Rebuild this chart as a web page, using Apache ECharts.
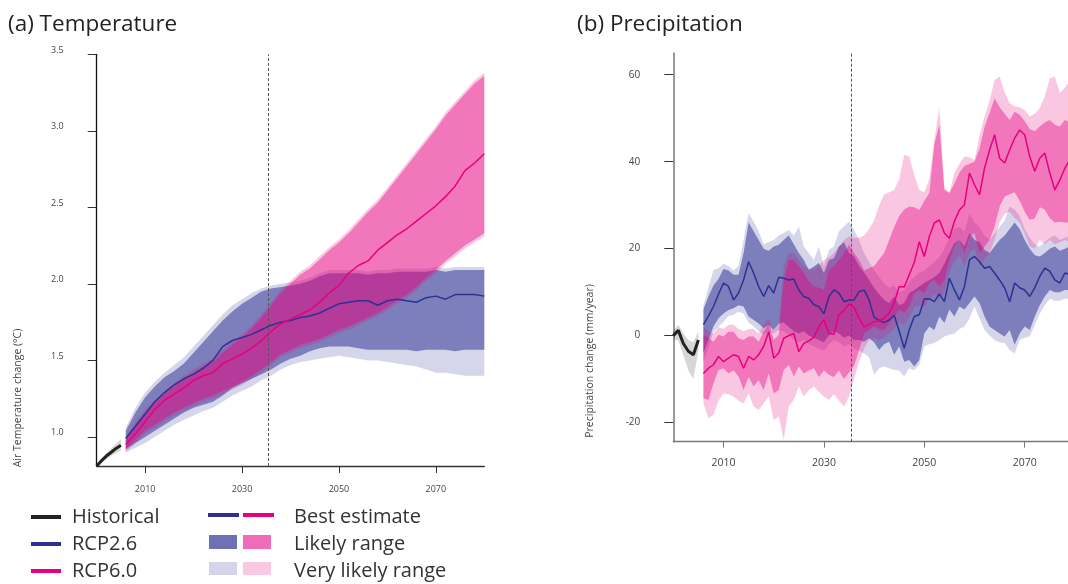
<!DOCTYPE html>
<html lang="en">
<head>
<meta charset="UTF-8">
<title>Temperature and precipitation projections</title>
<script src="https://cdn.jsdelivr.net/npm/echarts@6/dist/echarts.min.js"></script>
<style>
  html, body { margin: 0; padding: 0; background: #fff; }
  #main { width: 1068px; height: 584px; }
</style>
</head>
<body>
<div id="main"></div>
<script>
// ---------- data ----------
function range(a, b, step) { var r = []; for (var v = a; v <= b; v += step) r.push(v); return r; }

var histYears = [2000, 2001, 2002, 2003, 2004, 2005];
var tempYears = range(2006, 2080, 2);
var precipYears = range(2006, 2080, 1);
var dividerYear = 2035.4;

var yearTicks = [2010, 2030, 2050, 2070];
var tempTicks = [1.0, 1.5, 2.0, 2.5, 3.0, 3.5];
var precipTicks = [-20, 0, 20, 40, 60];

// temperature (°C)
var tempHist   = [0.81, 0.845, 0.875, 0.90, 0.925, 0.945];
var tempHistLo = [0.80, 0.83, 0.855, 0.875, 0.895, 0.91];
var tempHistHi = [0.82, 0.86, 0.895, 0.925, 0.955, 0.985];

var t26Mean = [0.99,1.07,1.15,1.23,1.29,1.34,1.38,1.41,1.45,1.50, 1.59,1.63,1.65,1.67,1.70,1.73,1.75,1.76,1.78,1.79,
               1.81,1.84,1.87,1.88,1.89,1.89,1.86,1.89,1.90,1.89, 1.88,1.91,1.92,1.90,1.93,1.93,1.93,1.92];
var t26Hi   = [1.04,1.16,1.26,1.33,1.39,1.43,1.48,1.55,1.62,1.69, 1.76,1.82,1.87,1.91,1.95,1.97,1.98,1.99,2.00,2.02,
               2.05,2.07,2.07,2.07,2.07,2.06,2.07,2.07,2.08,2.08, 2.08,2.08,2.09,2.08,2.09,2.09,2.09,2.09];
var t26Lo   = [0.92,0.96,1.00,1.04,1.08,1.12,1.16,1.19,1.21,1.23, 1.27,1.32,1.35,1.38,1.41,1.44,1.48,1.51,1.53,1.56,
               1.58,1.59,1.59,1.59,1.58,1.57,1.57,1.57,1.57,1.57, 1.56,1.57,1.57,1.57,1.56,1.57,1.57,1.57];
var t26VHi  = [1.06,1.19,1.29,1.36,1.42,1.47,1.52,1.59,1.66,1.73, 1.80,1.86,1.90,1.94,1.97,1.99,2.00,2.01,2.02,2.04,
               2.07,2.09,2.09,2.09,2.09,2.08,2.09,2.09,2.10,2.10, 2.10,2.10,2.11,2.10,2.11,2.11,2.11,2.11];
var t26VLo  = [0.90,0.93,0.96,1.00,1.04,1.08,1.11,1.14,1.17,1.19, 1.23,1.27,1.30,1.33,1.37,1.40,1.44,1.47,1.49,1.50,
               1.51,1.52,1.53,1.52,1.51,1.50,1.50,1.49,1.48,1.47, 1.46,1.44,1.42,1.42,1.41,1.40,1.40,1.40];

var t60Mean = [0.95,1.02,1.10,1.18,1.24,1.28,1.32,1.37,1.40,1.42, 1.48,1.51,1.54,1.58,1.63,1.69,1.74,1.77,1.80,1.83,
               1.88,1.94,1.99,2.07,2.12,2.15,2.22,2.27,2.32,2.36, 2.41,2.46,2.51,2.57,2.64,2.74,2.79,2.85];
var t60Hi   = [0.98,1.08,1.16,1.22,1.28,1.33,1.38,1.42,1.46,1.49, 1.55,1.60,1.65,1.71,1.78,1.86,1.94,2.00,2.06,2.10,
               2.16,2.22,2.27,2.33,2.40,2.47,2.53,2.61,2.69,2.77, 2.85,2.93,3.01,3.10,3.17,3.24,3.31,3.36];
var t60Lo   = [0.92,0.98,1.04,1.08,1.12,1.16,1.19,1.22,1.25,1.27, 1.30,1.33,1.36,1.40,1.44,1.49,1.54,1.57,1.60,1.62,
               1.64,1.67,1.70,1.72,1.75,1.78,1.81,1.85,1.89,1.93, 1.98,2.04,2.09,2.15,2.20,2.25,2.29,2.33];
var t60VHi  = [1.00,1.10,1.18,1.24,1.30,1.35,1.40,1.44,1.48,1.51, 1.57,1.62,1.67,1.73,1.80,1.88,1.96,2.02,2.08,2.12,
               2.18,2.24,2.29,2.35,2.42,2.49,2.55,2.63,2.71,2.79, 2.87,2.95,3.03,3.12,3.19,3.26,3.33,3.38];
var t60VLo  = [0.90,0.96,1.02,1.06,1.10,1.14,1.17,1.20,1.23,1.25, 1.28,1.31,1.34,1.38,1.42,1.47,1.52,1.55,1.58,1.60,
               1.62,1.65,1.68,1.70,1.73,1.76,1.79,1.83,1.87,1.91, 1.96,2.02,2.07,2.13,2.18,2.23,2.27,2.31];

// precipitation (mm/year)
var precipHist   = [0.0, 1.2, -1.8, -3.6, -4.4, -1.0];
var precipHistLo = [-1.0, -1.0, -4.5, -8.0, -10.0, -3.5];
var precipHistHi = [1.2, 2.5, 0.5, -1.0, -1.5, 1.0];

var p26Mean = [2.5,4.5,6.7,9.5,12.1,11.3,8.2,9.8,12.8,17.0, 14.4,11.3,9.0,11.5,9.8,13.4,13.2,12.8,13.0,10.5,
               9.0,8.6,7.1,6.7,5.0,9.0,10.5,9.8,7.8,8.2, 8.2,10.1,10.5,8.2,4.2,3.5,3.0,3.6,4.7,1.0,
               -2.9,1.3,4.4,4.8,8.4,8.5,7.8,9.6,7.8,13.2, 10.5,8.2,11.3,17.4,18.2,17.0,15.5,15.9,14.4,12.8,
               11.0,7.8,12.1,11.0,10.5,9.0,11.0,13.6,15.5,14.8, 12.8,12.1,14.4,14.0,13.5];
var p26Hi   = [6.0,9.0,11.5,13.0,15.3,15.0,14.0,14.0,19.0,26.0, 24.0,22.0,20.0,19.5,20.5,20.9,22.0,23.0,21.0,19.0,
               17.4,15.1,15.9,16.7,14.4,17.4,17.8,20.5,21.5,19.0, 18.2,16.0,14.5,12.8,11.0,9.5,8.2,7.5,9.0,7.0,
               7.5,9.8,10.5,11.3,12.1,12.8,13.5,14.4,16.5,19.0, 21.3,22.0,20.5,23.6,22.0,21.5,19.7,19.0,20.5,22.0,
               23.0,24.5,26.0,24.5,22.0,20.0,18.5,18.2,19.0,20.0, 20.5,19.5,20.0,20.5,21.0];
var p26Lo   = [-4.0,-1.0,2.1,4.0,5.1,5.9,6.3,7.0,6.7,4.4, 3.6,2.8,1.7,2.5,1.3,2.8,3.0,2.0,1.0,0.5,
               1.0,0.0,-0.5,-1.0,-1.5,0.0,1.0,0.5,-0.5,0.0, -1.0,-1.0,-1.4,-0.6,-1.5,-3.3,-2.0,-1.4,-4.4,-2.5,
               -6.0,-5.6,-7.1,-5.6,0.5,2.1,1.3,4.4,2.9,6.0, 4.4,6.7,6.0,7.5,9.0,7.5,4.4,2.1,1.3,0.5,
               -0.2,1.3,-2.1,0.5,2.1,1.3,4.4,7.0,9.0,10.5, 10.0,10.0,10.5,10.5,10.5];
var p26VHi  = [7.0,11.0,15.1,15.5,16.5,16.0,15.0,16.0,22.0,28.2, 26.2,24.0,21.0,21.5,22.0,23.0,23.6,24.3,23.0,25.1,
               20.5,19.0,17.4,20.5,15.9,19.7,20.5,24.0,25.1,26.2, 24.3,22.0,19.0,17.0,15.0,13.5,12.0,11.0,11.5,10.0,
               10.5,12.5,13.5,14.5,15.0,16.0,17.0,18.0,20.0,22.5, 24.5,25.0,24.0,28.0,26.0,25.0,23.0,22.0,23.5,25.0,
               26.5,29.7,29.0,27.5,24.5,22.5,21.0,20.5,21.5,22.5, 23.0,22.0,22.5,23.0,23.0];
var p26VLo  = [-6.0,-3.0,0.9,2.0,3.2,4.5,4.8,5.5,5.1,3.0, 2.1,1.0,0.2,1.0,0.5,1.3,1.0,0.0,-1.0,-1.5,
               -1.0,-2.0,-2.5,-3.0,-3.5,-2.0,-1.0,-1.5,-2.5,-2.0, -3.0,-3.5,-4.1,-5.0,-9.0,-7.5,-7.1,-7.5,-7.9,-8.0,
               -9.4,-7.5,-7.9,-6.7,-2.5,-2.0,-1.7,-1.0,-0.2,0.2, 0.5,1.5,2.1,4.0,6.7,4.0,1.3,0.0,-1.0,-1.5,
               -1.7,-3.3,-4.1,-1.0,-0.5,-0.2,2.5,5.0,7.0,8.5, 8.0,8.0,8.5,8.5,8.5];

var p60Mean = [-8.7,-7.5,-6.7,-4.8,-6.0,-5.2,-4.4,-4.8,-7.5,-4.8, -5.6,-4.4,-2.5,0.9,-5.2,-4.0,-0.6,0.0,0.5,-3.7,
               -1.8,-1.2,-0.4,2.1,3.6,0.5,0.3,4.8,5.8,7.3, 6.5,4.0,2.0,2.6,3.2,3.4,4.0,5.2,7.5,11.3,
               11.2,14.0,16.8,21.6,18.2,22.8,25.9,26.6,23.6,22.4, 26.3,28.9,30.1,37.4,34.7,32.4,38.5,42.7,46.2,40.8,
               39.7,42.7,45.4,47.3,46.2,41.2,37.8,40.8,42.0,37.4, 33.5,35.8,38.5,40.5,42.0];
var p60Hi   = [0.2,-0.5,-1.4,0.2,-0.2,0.9,0.9,-0.6,-1.0,-0.2, -0.2,-1.4,0.9,2.8,-1.0,0.2,12.8,17.4,17.4,16.0,
               14.4,12.5,11.3,11.0,10.5,15.1,16.0,17.4,19.0,20.9, 19.0,17.4,15.0,15.5,16.0,17.5,19.0,22.0,25.0,27.5,
               29.0,29.7,29.5,28.9,31.0,32.8,44.0,48.5,33.5,32.8, 35.0,37.5,39.0,39.5,40.0,43.0,48.0,51.2,54.6,52.5,
               51.0,49.6,51.5,50.8,49.3,47.5,47.0,48.1,49.0,49.6, 48.5,48.1,49.6,49.0,49.5];
var p60Lo   = [-14.4,-14.8,-11.0,-7.9,-7.5,-8.7,-8.0,-9.4,-12.5,-9.5, -11.7,-10.2,-12.5,-8.7,-13.3,-12.5,-7.9,-6.7,-9.4,-7.1,
               -8.7,-8.0,-7.5,-9.5,-8.0,-9.0,-9.5,-8.0,-10.0,-8.5, -7.0,-3.3,0.5,1.3,2.1,1.5,1.3,2.9,4.4,6.0,
               5.2,6.7,9.8,10.5,9.8,12.1,12.8,11.3,12.8,17.4, 20.5,22.0,19.0,22.8,23.6,19.0,20.5,22.0,25.1,29.7,
               32.0,32.5,33.0,31.0,28.5,26.6,27.0,29.5,29.0,27.0, 26.0,26.2,26.0,26.0,26.0];
var p60VHi  = [2.0,1.0,0.5,2.0,1.5,2.5,2.5,1.5,1.0,1.5, 1.5,0.5,2.5,4.0,1.0,3.0,16.0,19.0,19.0,17.5,
               15.9,15.5,15.1,16.0,17.4,18.0,19.0,20.5,22.0,22.8, 22.5,22.5,23.0,24.5,26.5,30.0,32.5,33.0,33.5,36.0,
               41.6,41.2,37.0,33.5,33.0,36.0,45.0,52.5,34.0,33.0, 37.4,39.5,41.2,41.0,40.4,46.0,50.4,54.0,58.8,59.6,
               56.0,53.5,52.7,52.5,51.9,50.4,51.0,52.3,55.0,59.2, 59.6,55.8,57.0,58.8,58.0];
var p60VLo  = [-15.6,-19.0,-18.2,-15.0,-13.3,-13.5,-14.0,-15.0,-15.6,-13.3, -16.3,-17.1,-15.6,-14.0,-19.4,-18.6,-24.0,-16.3,-14.8,-11.7,
               -14.0,-12.5,-11.7,-12.9,-14.0,-14.8,-13.5,-15.0,-16.3,-14.0, -10.0,-6.0,-3.0,-1.0,-0.5,-1.0,-0.5,0.5,1.5,3.0,
               2.5,4.0,6.5,7.0,6.5,8.5,9.5,8.5,10.0,14.5, 17.0,18.5,16.0,19.0,20.0,16.0,17.5,19.0,22.0,26.0,
               28.0,28.5,27.0,26.0,23.5,20.5,20.0,22.0,21.0,22.0, 21.0,21.5,22.0,21.5,22.0];

// ---------- styles ----------
var FONT = '"Open Sans", sans-serif';
var navy = '#2e3192';
var magenta = '#e6007e';
var histColor = '#222222';
var blueVL = 'rgba(46,49,146,0.2)';
var blueL = 'rgba(46,49,146,0.53)';
var pinkVL = 'rgba(230,0,126,0.22)';
var pinkL = 'rgba(230,0,126,0.4)';
var histBand = 'rgba(0,0,0,0.16)';

function pairs(xs, ys) { return xs.map(function (x, i) { return [x, ys[i]]; }); }

// filled band between lo and hi, drawn as one polygon through the axis scales
function band(name, gi, xs, lo, hi, color, z) {
  return {
    name: name, type: 'custom', xAxisIndex: gi, yAxisIndex: gi, z: z, silent: true, clip: true,
    data: xs.map(function (x, i) { return [x, lo[i], hi[i]]; }),
    encode: { x: 0, y: [1, 2] },
    renderItem: function (params, api) {
      if (params.dataIndex !== 0) return null;
      var pts = [];
      for (var i = 0; i < xs.length; i++) pts.push(api.coord([xs[i], hi[i]]));
      for (var j = xs.length - 1; j >= 0; j--) pts.push(api.coord([xs[j], lo[j]]));
      return { type: 'polygon', shape: { points: pts }, style: { fill: color } };
    }
  };
}

function line(name, gi, xs, ys, color, width, z) {
  return {
    name: name, type: 'line', xAxisIndex: gi, yAxisIndex: gi, z: z, silent: true,
    data: pairs(xs, ys), showSymbol: false, symbol: 'none',
    lineStyle: { color: color, width: width }, itemStyle: { color: color }
  };
}

function divider() {
  return {
    silent: true, symbol: 'none', label: { show: false },
    lineStyle: { color: '#555', type: [3, 2], width: 1 },
    data: [{ xAxis: dividerYear }]
  };
}

function xAxisFor(gi, axisColor, fontSize, tickLen, margin) {
  return {
    gridIndex: gi, type: 'value', min: 2000, max: 2080,
    axisLine: { show: true, onZero: false, lineStyle: { color: axisColor, width: 1.3 } },
    axisTick: { show: true, customValues: yearTicks, length: tickLen, lineStyle: { color: axisColor } },
    axisLabel: { customValues: yearTicks, formatter: function (v) { return String(v); },
      fontSize: fontSize, color: '#444', margin: margin, fontFamily: FONT },
    splitLine: { show: false }
  };
}

var histLine = line('Historical', 0, histYears, tempHist, histColor, 3, 10);
histLine.markLine = divider();
var histLine2 = line('Historical', 1, histYears, precipHist, histColor, 3, 10);
histLine2.markLine = divider();

var series = [
  band('hist band T', 0, histYears, tempHistLo, tempHistHi, histBand, 1),
  band('RCP2.6 very likely T', 0, tempYears, t26VLo, t26VHi, blueVL, 1),
  band('RCP2.6 likely T', 0, tempYears, t26Lo, t26Hi, blueL, 2),
  band('RCP6.0 very likely T', 0, tempYears, t60VLo, t60VHi, pinkVL, 3),
  band('RCP6.0 likely T', 0, tempYears, t60Lo, t60Hi, pinkL, 4),
  line('RCP2.6', 0, tempYears, t26Mean, navy, 1.5, 10),
  line('RCP6.0', 0, tempYears, t60Mean, magenta, 1.5, 11),
  histLine,

  band('hist band P', 1, histYears, precipHistLo, precipHistHi, histBand, 1),
  band('RCP2.6 very likely P', 1, precipYears, p26VLo, p26VHi, blueVL, 1),
  band('RCP2.6 likely P', 1, precipYears, p26Lo, p26Hi, blueL, 2),
  band('RCP6.0 very likely P', 1, precipYears, p60VLo, p60VHi, pinkVL, 3),
  band('RCP6.0 likely P', 1, precipYears, p60Lo, p60Hi, pinkL, 4),
  line('RCP2.6', 1, precipYears, p26Mean, navy, 1.5, 10),
  line('RCP6.0', 1, precipYears, p60Mean, magenta, 1.5, 11),
  histLine2
];

function txt(x, y, text, size, color) {
  return { type: 'text', x: x, y: y, silent: true,
    style: { text: text, fontSize: size, fontFamily: FONT, fill: color, align: 'left', verticalAlign: 'middle' } };
}

var graphics = [
  txt(8, 25, '(a) Temperature', 22.5, '#222'),
  txt(577, 25, '(b) Precipitation', 22.5, '#222'),
  { type: 'text', x: 18, y: 398, rotation: Math.PI / 2, silent: true,
    style: { text: 'Air Temperature change (°C)', fontSize: 10.5, fontFamily: FONT, fill: '#444', align: 'center', verticalAlign: 'middle' } },
  { type: 'text', x: 590, y: 361, rotation: Math.PI / 2, silent: true,
    style: { text: 'Precipitation change (mm/year)', fontSize: 10.5, fontFamily: FONT, fill: '#444', align: 'center', verticalAlign: 'middle' } },
  // right legend column
  { type: 'line', silent: true, shape: { x1: 208, y1: 515, x2: 239, y2: 515 }, style: { stroke: navy, lineWidth: 4 } },
  { type: 'line', silent: true, shape: { x1: 243, y1: 515, x2: 274, y2: 515 }, style: { stroke: magenta, lineWidth: 4 } },
  { type: 'rect', silent: true, shape: { x: 209, y: 535, width: 28, height: 14 }, style: { fill: '#6f71b7' } },
  { type: 'rect', silent: true, shape: { x: 243, y: 535, width: 28, height: 14 }, style: { fill: '#f06cb9' } },
  { type: 'rect', silent: true, shape: { x: 209, y: 562, width: 28, height: 13 }, style: { fill: '#d4d5ea' } },
  { type: 'rect', silent: true, shape: { x: 243, y: 562, width: 28, height: 13 }, style: { fill: '#f9c9e4' } },
  txt(294, 517, 'Best estimate', 20, '#333'),
  txt(294, 544, 'Likely range', 20, '#333'),
  txt(294, 571, 'Very likely range', 20, '#333')
];

var chart = echarts.init(document.getElementById('main'), null, { renderer: 'canvas' });
chart.setOption({
  animation: false,
  backgroundColor: '#fff',
  textStyle: { fontFamily: FONT },
  grid: [
    { left: 96.7, top: 54.3, width: 387.6, height: 411.7, outerBoundsMode: 'none' },
    { left: 673.3, top: 53, width: 401.6, height: 388.7, outerBoundsMode: 'none' }
  ],
  xAxis: [
    xAxisFor(0, '#333', 9, 7, 19),
    xAxisFor(1, '#777', 10.5, 6, 16)
  ],
  yAxis: [
    {
      gridIndex: 0, type: 'value', min: 0.81, max: 3.5,
      axisLine: { show: true, onZero: false, lineStyle: { color: '#111', width: 1.3 } },
      axisTick: { show: true, customValues: tempTicks, length: 9, lineStyle: { color: '#333' } },
      axisLabel: { customValues: tempTicks, formatter: function (v) { return v.toFixed(1); },
        margin: 33, fontSize: 9, color: '#444', fontFamily: FONT, verticalAlign: 'bottom', lineHeight: 8 },
      splitLine: { show: false }
    },
    {
      gridIndex: 1, type: 'value', min: -24.4, max: 65,
      axisLine: { show: true, onZero: false, lineStyle: { color: '#777', width: 1.5 } },
      axisTick: { show: true, customValues: precipTicks, length: 9, lineStyle: { color: '#333' } },
      axisLabel: { customValues: precipTicks, margin: 33, fontSize: 10, color: '#444', fontFamily: FONT },
      splitLine: { show: false }
    }
  ],
  legend: {
    data: ['Historical', 'RCP2.6', 'RCP6.0'],
    orient: 'vertical', left: 31, top: 507, padding: 0,
    itemWidth: 30, itemHeight: 4, itemGap: 7, icon: 'rect', selectedMode: false,
    textStyle: { fontSize: 20, color: '#333', fontFamily: FONT, lineHeight: 20, padding: [0, 0, 0, 6] }
  },
  graphic: graphics,
  series: series
});
</script>
</body>
</html>
